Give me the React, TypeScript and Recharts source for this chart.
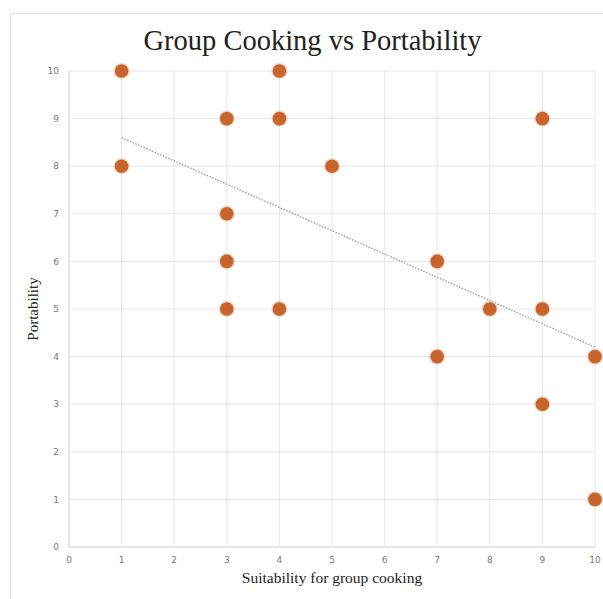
import React from "react";
import { ScatterChart, Scatter, XAxis, YAxis, CartesianGrid } from "recharts";

const groupCooking = [1, 4, 3, 4, 9, 1, 5, 3, 3, 7, 3, 4, 8, 9, 7, 10, 9, 10];
const portability = [10, 10, 9, 9, 9, 8, 8, 7, 6, 6, 5, 5, 5, 5, 4, 4, 3, 1];
const trendX = [1, 10];
const trendY = [8.6, 4.2];
const axisTicks = [0, 1, 2, 3, 4, 5, 6, 7, 8, 9, 10];

const points = groupCooking.map((x, i) => ({ x, y: portability[i] }));
const trend = trendX.map((x, i) => ({ x, y: trendY[i] }));

const Dot = (props: any) => {
  const { cx, cy } = props;
  if (cx == null || cy == null) return <g />;
  return (
    <g>
      <circle cx={cx} cy={cy} r={8} fill="#f0c4a8" opacity={0.7} />
      <circle cx={cx} cy={cy} r={6.8} fill="#c8642e" />
    </g>
  );
};

export default function App() {
  return (
    <div style={{ position: "absolute", left: 0, top: 0, width: 603, height: 599, background: "#fff", overflow: "hidden" }}>
      <div
        style={{
          position: "absolute",
          left: 10,
          top: 13,
          width: 620,
          height: 620,
          border: "1px solid #e2e2e2",
          boxSizing: "border-box",
        }}
      />
      <div
        style={{
          position: "absolute",
          left: 0,
          top: 23,
          width: 625,
          textAlign: "center",
          fontFamily: "'Liberation Serif', serif",
          fontSize: 28.5,
          color: "#222",
          lineHeight: "36px",
        }}
      >
        Group Cooking vs Portability
      </div>
      <div style={{ position: "absolute", left: 0, top: 0 }}>
        <ScatterChart width={603} height={599} margin={{ top: 71, right: 8, bottom: 10, left: 9 }}>
          <CartesianGrid stroke="#e6e6e6" strokeWidth={1} />
          <XAxis
            type="number"
            dataKey="x"
            domain={[0, 10]}
            ticks={axisTicks}
            interval={0}
            tickLine={false}
            axisLine={{ stroke: "#d9d9d9" }}
            tick={{ fill: "#777", fontSize: 9, fontFamily: "'DejaVu Sans', sans-serif" }}
            tickMargin={4}
            height={42}
            label={{
              value: "Suitability for group cooking",
              position: "insideBottom",
              offset: 6,
              fill: "#222",
              fontSize: 15.5,
              fontFamily: "'Liberation Serif', serif",
            }}
          />
          <YAxis
            type="number"
            dataKey="y"
            domain={[0, 10]}
            ticks={axisTicks}
            interval={0}
            tickLine={false}
            axisLine={{ stroke: "#d9d9d9" }}
            tick={{ fill: "#777", fontSize: 9, fontFamily: "'DejaVu Sans', sans-serif" }}
            tickMargin={4}
            width={60}
            label={{
              value: "Portability",
              angle: -90,
              position: "insideLeft",
              offset: 24,
              style: { textAnchor: "middle" },
              fill: "#222",
              fontSize: 15,
              fontFamily: "'Liberation Serif', serif",
            }}
          />
          <Scatter
            data={trend}
            isAnimationActive={false}
            line={{ stroke: "#8a9cb0", strokeWidth: 1.3, strokeDasharray: "1.5 1.5" }}
            shape={() => <g />}
          />
          <Scatter data={points} isAnimationActive={false} shape={Dot} />
        </ScatterChart>
      </div>
    </div>
  );
}
